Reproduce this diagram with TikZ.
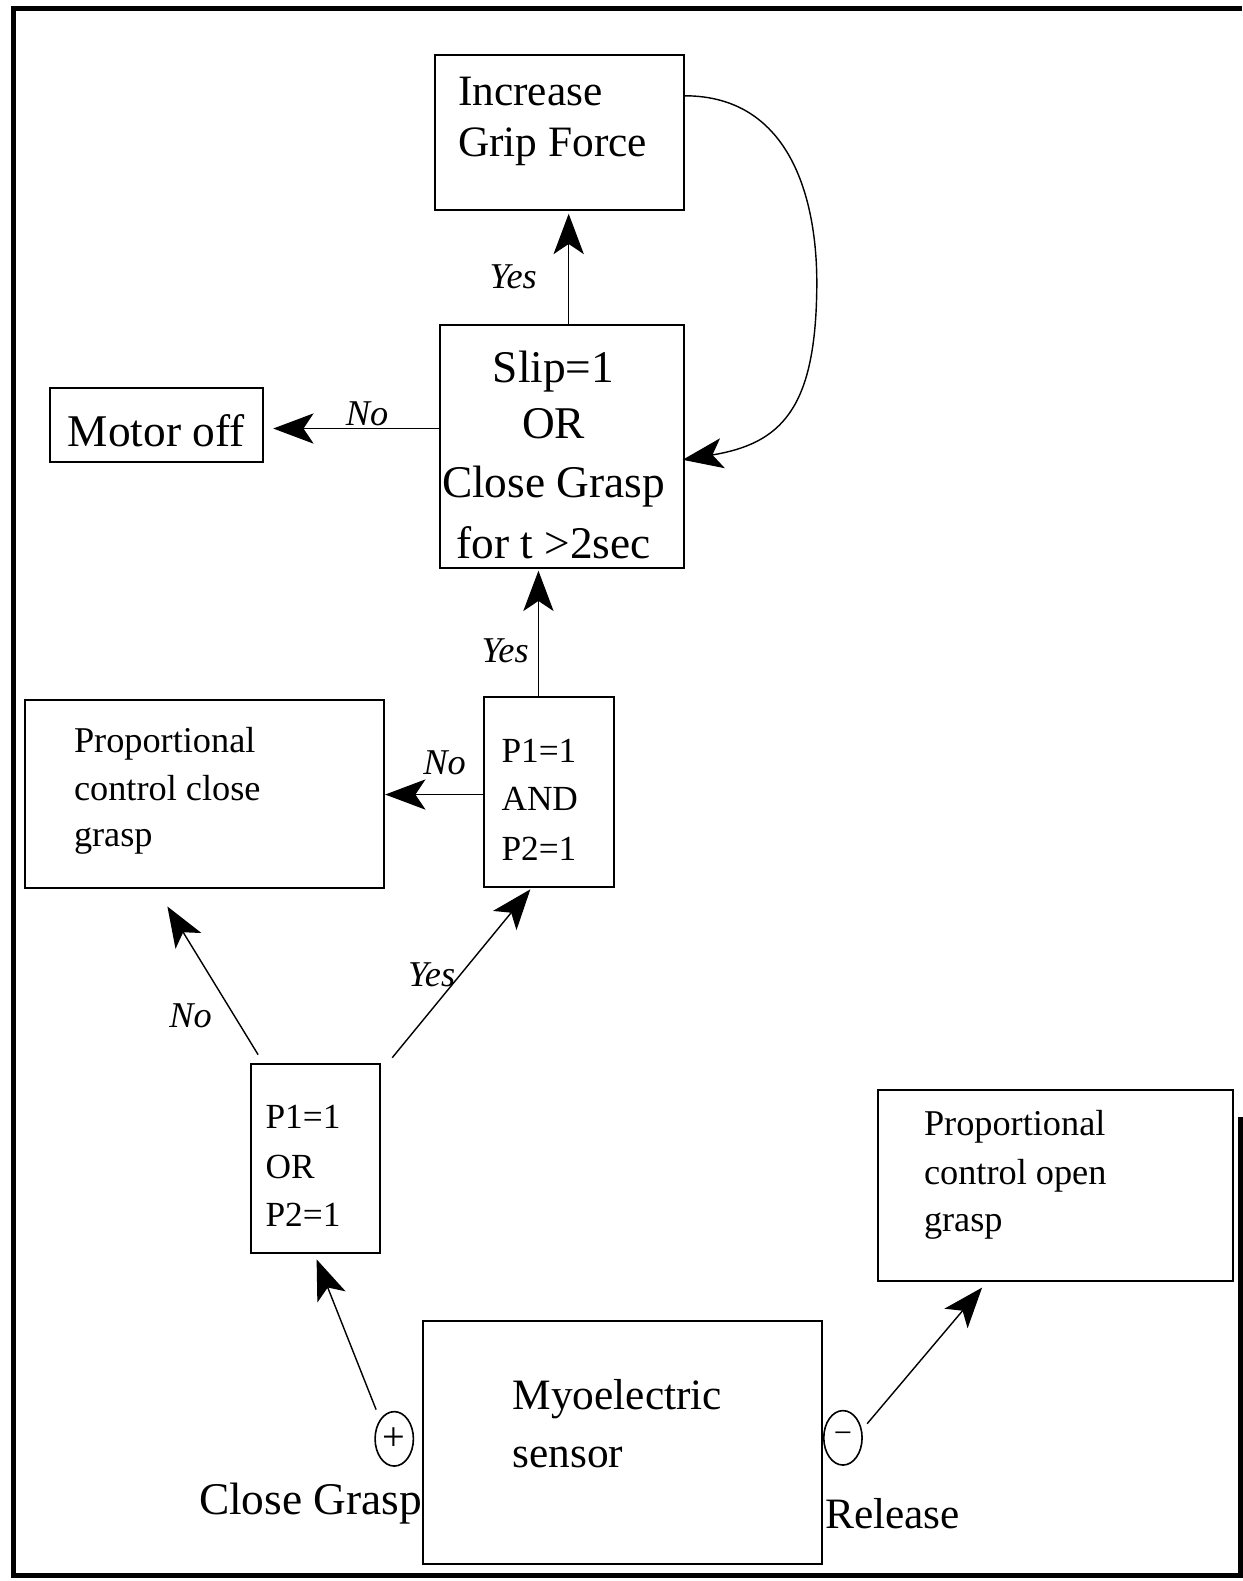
\documentclass[tikz,border=0pt]{standalone}
\usepackage{fontspec}
\setmainfont{Liberation Serif}
\usetikzlibrary{arrows.meta,fit,calc,shapes.geometric}
\begin{document}
\begin{tikzpicture}[x=0.5pt,y=-0.5pt,
  box/.style={draw, line width=1pt, inner sep=0pt},
  conn/.style={line width=0.7pt, -{Stealth[length=20pt,width=15pt,inset=5pt]}},
  txt/.style={inner sep=0pt, anchor=base west},
  ctxt/.style={inner sep=0pt, anchor=base},
  lbl/.style={inner sep=0pt, font=\fontsize{18}{20}\selectfont\itshape},
  fA/.style={font=\fontsize{21.5}{24}\selectfont},
  fB/.style={font=\fontsize{22.5}{24}\selectfont},
  fC/.style={font=\fontsize{18}{20}\selectfont},
  fD/.style={font=\fontsize{17.5}{20}\selectfont},
  sgn/.style={draw, ellipse, line width=0.8pt, minimum width=19pt, minimum height=27pt, inner sep=0pt},
]
\useasboundingbox (0,0) rectangle (1232,1568);
\draw[line width=2.5pt] (1232,8) -- (13,8) -- (13,1563) -- (1230,1563) -- (1230,1108);

% boxes
\node[box, fit={(431,55) (678,208)}] (inc) {};
\node[box, fit={(436,322) (678,563)}] (slip) {};
\node[box, fit={(50,385) (261,458)}] (motor) {};
\node[box, fit={(480,691) (609,880)}] (andb) {};
\node[box, fit={(25,694) (381,881)}] (pclose) {};
\node[box, fit={(249,1055) (377,1243)}] (orb) {};
\node[box, fit={(871,1081) (1223,1270)}] (popen) {};
\node[box, fit={(420,1310) (815,1551)}] (myo) {};

% texts
\node[txt, fA] (inct1) at (454,105) {Increase};
\node[txt, fA] (inct2) at (454,155) {Grip Force};

\node[ctxt, fB] (slipt1) at (549,379) {Slip=1};
\node[ctxt, fB] (slipt2) at (549,435) {OR};
\node[ctxt, fB] (slipt3) at (549,493) {Close Grasp};
\node[ctxt, fB] (slipt4) at (549,554) {for t >2sec};

\node[ctxt, fB] (motort) at (155,443) {Motor off};

\node[txt, fC] (pct1) at (73,746) {Proportional};
\node[txt, fC] (pct2) at (73,794) {control close};
\node[txt, fC] (pct3) at (73,840) {grasp};

\node[txt, fD] (andt1) at (497,756) {P1=1};
\node[txt, fD] (andt2) at (497,804) {AND};
\node[txt, fD] (andt3) at (497,853) {P2=1};

\node[txt, fD] (ort1) at (263,1119) {P1=1};
\node[txt, fD] (ort2) at (263,1169) {OR};
\node[txt, fD] (ort3) at (263,1216) {P2=1};

\node[txt, fC] (pot1) at (916,1126) {Proportional};
\node[txt, fC] (pot2) at (916,1175) {control open};
\node[txt, fC] (pot3) at (916,1221) {grasp};

\node[txt, fA] (myot1) at (508,1398) {Myoelectric};
\node[txt, fA] (myot2) at (508,1455) {sensor};

\node[sgn, font=\fontsize{20}{20}\selectfont] (plus) at (391,1427) {+};
\node[sgn, font=\fontsize{16}{16}\selectfont] (minus) at (836,1426) {−};

\node[txt, fB] (closel) at (197,1502) {Close Grasp};
\node[txt, fA] (releasel) at (818,1516) {Release};

% connectors
\draw[conn] ($(slip.north)+(7,0)$) -- ($(inc.south)+(9.5,3)$);
\draw[conn] ($(slip.west)+(0,-17.5)$) -- ($(motor.east)+(9,3.5)$);
\draw[conn] ($(inc.east)+(0,-36.5)$) .. controls (785,95) and (812,200) .. (810,290)
  .. controls (808,405) and (775,440) .. ($(slip.east)+(-2,13.5)$);
\draw[conn] ($(andb.north)+(-10.5,0)$) -- ($(slip.south)+(-23,2)$);
\draw[conn] ($(andb.west)+(0,2.5)$) -- ($(pclose.east)+(0,0.5)$);
\draw[conn] ($(orb.north)+(-57,-8)$) -- ($(pclose.south)+(-37,17)$);
\draw[conn] ($(orb.north)+(76,-5)$) -- ($(andb.south)+(-18.5,1)$);
\draw[conn] ($(plus.center)+(-18,-29)$) -- ($(orb.south)+(1,5)$);
\draw[conn] ($(minus.center)+(24,-14)$) -- ($(popen.south)+(-73,6)$);

% labels
\node[lbl] (l1) at (509,275) {Yes};
\node[lbl] (l2) at (364,410) {No};
\node[lbl] (l3) at (501,645) {Yes};
\node[lbl] (l4) at (441,757) {No};
\node[lbl] (l5) at (189,1007) {No};
\node[lbl] (l6) at (428,967) {Yes};
\end{tikzpicture}
\end{document}
